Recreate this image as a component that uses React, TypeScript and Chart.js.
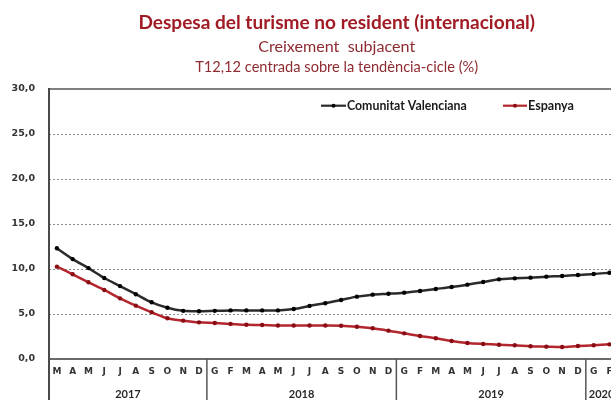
import React, { useEffect, useRef } from "react";
import { Chart, registerables } from "chart.js";

Chart.register(...registerables);

// ---- Data ----
const months: string[] = [
  "M", "A", "M", "J", "J", "A", "S", "O", "N", "D",
  "G", "F", "M", "A", "M", "J", "J", "A", "S", "O", "N", "D",
  "G", "F", "M", "A", "M", "J", "J", "A", "S", "O", "N", "D",
  "G", "F",
];
const years: string[] = ["2017", "2018", "2019", "2020"];

const comunitatValenciana: number[] = [
  12.3, 11.1, 10.1, 9.0, 8.1, 7.2, 6.3, 5.7, 5.35, 5.3,
  5.35, 5.4, 5.4, 5.4, 5.4, 5.55, 5.9, 6.2, 6.56, 6.93, 7.15, 7.25,
  7.37, 7.56, 7.78, 8.0, 8.26, 8.56, 8.85, 8.96, 9.04, 9.15, 9.22, 9.33,
  9.44, 9.59,
];
const espanya: number[] = [
  10.26, 9.41, 8.52, 7.67, 6.74, 5.93, 5.19, 4.52, 4.26, 4.07,
  4.0, 3.9, 3.8, 3.78, 3.72, 3.72, 3.72, 3.72, 3.7, 3.59, 3.41, 3.15,
  2.85, 2.56, 2.3, 2.0, 1.78, 1.67, 1.59, 1.52, 1.41, 1.37, 1.33, 1.44,
  1.52, 1.63,
];

const titleText = "Despesa del turisme no resident (internacional)";
const subtitle1 = "Creixement  subjacent";
const subtitle2 = "T12,12 centrada sobre la tendència-cicle (%)";
const seriesNames: string[] = ["Comunitat Valenciana", "Espanya"];

// ---- Helpers ----
function fitText(
  ctx: CanvasRenderingContext2D,
  text: string,
  weight: string,
  family: string,
  targetW: number,
  x: number,
  y: number,
  align: CanvasTextAlign
) {
  ctx.font = `${weight} 20px ${family}`;
  const w = ctx.measureText(text).width;
  const size = (20 * targetW) / w;
  ctx.font = `${weight} ${size}px ${family}`;
  ctx.textAlign = align;
  ctx.fillText(text, x, y);
}

function yearRanges(): { start: number; end: number }[] {
  const ranges: { start: number; end: number }[] = [];
  let s = 0;
  for (let i = 1; i < months.length; i++) {
    if (months[i] === "G") {
      ranges.push({ start: s, end: i - 1 });
      s = i;
    }
  }
  ranges.push({ start: s, end: months.length - 1 });
  return ranges;
}

const overlayPlugin = {
  id: "overlay",
  afterDraw(chart: any) {
    const ctx: CanvasRenderingContext2D = chart.ctx;
    const { left, top, right, bottom } = chart.chartArea;
    const xs = chart.scales.x;
    const H = chart.height;
    const mid = (a: number, b: number) =>
      (xs.getPixelForValue(a) + xs.getPixelForValue(b)) / 2;

    ctx.save();
    ctx.setLineDash([]);
    // frame top
    ctx.strokeStyle = "#808080";
    ctx.lineWidth = 2;
    ctx.beginPath();
    ctx.moveTo(left, top);
    ctx.lineTo(right + 5, top);
    ctx.stroke();
    // bottom axis
    ctx.strokeStyle = "#6a6a6a";
    ctx.beginPath();
    ctx.moveTo(left, bottom);
    ctx.lineTo(right + 5, bottom);
    ctx.stroke();
    // left axis down to the bottom
    ctx.strokeStyle = "#4a4a4a";
    ctx.beginPath();
    ctx.moveTo(left, top - 1);
    ctx.lineTo(left, H);
    ctx.stroke();

    // year dividers and labels
    const ranges = yearRanges();
    ctx.strokeStyle = "#555555";
    ctx.lineWidth = 1.5;
    ranges.forEach((r, i) => {
      const x0 = r.start === 0 ? left : mid(r.start - 1, r.start);
      const x1 = r.end === months.length - 1 ? right : mid(r.end, r.end + 1);
      if (r.start !== 0) {
        ctx.beginPath();
        ctx.moveTo(x0, bottom);
        ctx.lineTo(x0, H);
        ctx.stroke();
      }
      ctx.fillStyle = "#2a2a2a";
      ctx.font = "bold 11px Lato";
      ctx.textAlign = "center";
      ctx.textBaseline = "middle";
      ctx.fillText(years[i], (x0 + x1) / 2, 394);
    });

    // titles
    ctx.textBaseline = "alphabetic";
    ctx.fillStyle = "#a11b24";
    fitText(ctx, titleText, "bold", "Lato", 397, 336.7, 28.5, "center");
    ctx.fillStyle = "#8e2b30";
    fitText(ctx, subtitle1, "normal", "Lato", 157, 336.7, 51.5, "center");
    fitText(ctx, subtitle2, "normal", "Lato", 283, 336.7, 71.5, "center");

    // legend
    const legendY = 105.7;
    const items = [
      { x0: 321, x1: 346, color: "#2b2b2b", mark: "#000000", textW: 120 },
      { x0: 503, x1: 527, color: "#b3262e", mark: "#8b0d14", textW: 46 },
    ];
    items.forEach((it, i) => {
      ctx.strokeStyle = it.color;
      ctx.lineWidth = 2.2;
      ctx.beginPath();
      ctx.moveTo(it.x0, legendY);
      ctx.lineTo(it.x1, legendY);
      ctx.stroke();
      ctx.fillStyle = it.mark;
      ctx.beginPath();
      ctx.arc((it.x0 + it.x1) / 2, legendY, 2, 0, Math.PI * 2);
      ctx.fill();
      ctx.fillStyle = "#1a1a1a";
      ctx.textBaseline = "middle";
      fitText(ctx, seriesNames[i], "bold", "Lato", it.textW, it.x1 + 1, legendY, "left");
    });
    ctx.restore();
  },
};

export default function App() {
  const ref = useRef<HTMLCanvasElement>(null);

  useEffect(() => {
    if (!ref.current) return;
    const chart = new Chart(ref.current, {
      type: "line",
      data: {
        labels: months,
        datasets: [
          {
            label: seriesNames[0],
            data: comunitatValenciana,
            borderColor: "#2b2b2b",
            borderWidth: 2.5,
            pointRadius: 2.2,
            pointBackgroundColor: "#000000",
            pointBorderWidth: 0,
            tension: 0.3,
          },
          {
            label: seriesNames[1],
            data: espanya,
            borderColor: "#b3262e",
            borderWidth: 2.5,
            pointRadius: 2.2,
            pointBackgroundColor: "#8b0d14",
            pointBorderWidth: 0,
            tension: 0.3,
          },
        ],
      },
      options: {
        responsive: false,
        animation: false,
        devicePixelRatio: 1,
        layout: { padding: { left: 0, top: 89, right: 22.6, bottom: 0 } },
        plugins: {
          legend: { display: false },
          title: { display: false },
          tooltip: { enabled: false },
        },
        scales: {
          x: {
            type: "category",
            offset: true,
            grid: { display: false, drawTicks: false },
            border: { display: false },
            ticks: {
              autoSkip: false,
              maxRotation: 0,
              minRotation: 0,
              padding: 7,
              color: "#333333",
              font: { family: "DejaVu Sans", weight: "bold", size: 9 },
            },
            afterFit: (scale: any) => {
              scale.height = 41;
            },
          },
          y: {
            min: 0,
            max: 30,
            border: { display: false, dash: [2, 2] },
            grid: {
              drawTicks: false,
              color: (c: any) =>
                c.tick && (c.tick.value === 0 || c.tick.value === 30)
                  ? "rgba(0,0,0,0)"
                  : "#8a8a8a",
              lineWidth: 1,
            },
            ticks: {
              stepSize: 5,
              padding: 14,
              color: "#333333",
              font: { family: "DejaVu Sans", weight: "bold", size: 9.5 },
              callback: (v: any) => Number(v).toFixed(1).replace(".", ","),
            },
            afterFit: (scale: any) => {
              scale.width = 49;
            },
          },
        },
      },
      plugins: [overlayPlugin],
    } as any);
    return () => chart.destroy();
  }, []);

  return (
    <div
      style={{
        position: "fixed",
        left: 0,
        top: 0,
        width: 611,
        height: 400,
        overflow: "hidden",
        background: "#ffffff",
      }}
    >
      <canvas ref={ref} width={640} height={400} style={{ display: "block" }} />
    </div>
  );
}
